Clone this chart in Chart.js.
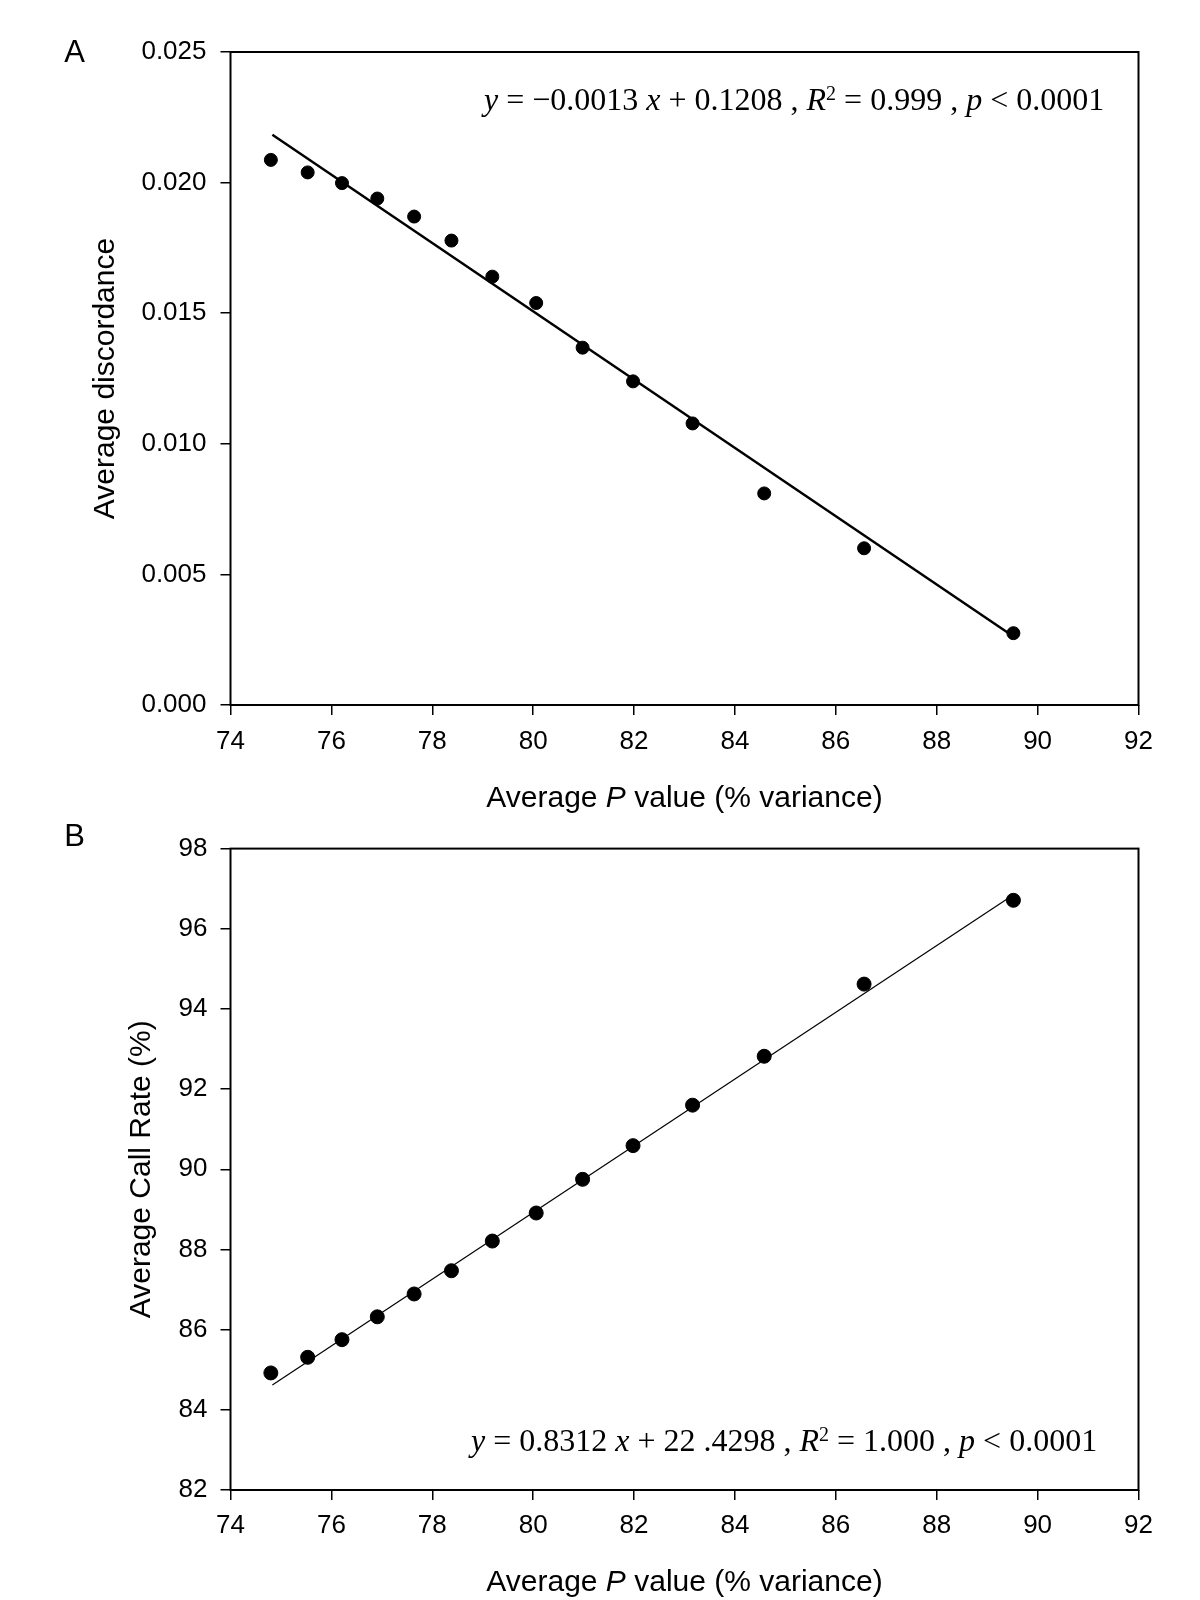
<!DOCTYPE html>
<html>
<head>
<meta charset="utf-8">
<script src="https://cdn.jsdelivr.net/npm/chart.js@4.4.0/dist/chart.umd.min.js"></script>
<style>
  html, body { margin: 0; padding: 0; background: #fff; }
  #wrap { position: relative; width: 1200px; height: 1600px; }
  canvas { position: absolute; left: 0; }
</style>
</head>
<body>
<div id="wrap">
  <canvas id="chartA" width="1200" height="820" style="top:0px"></canvas>
  <canvas id="chartB" width="1200" height="780" style="top:820px"></canvas>
</div>
<script>
// values
const pValues = [74.80, 75.53, 76.21, 76.91, 77.64, 78.38, 79.19, 80.06, 80.98, 81.98, 83.16, 84.58, 86.56, 89.52];
const discordance = [0.02087, 0.02039, 0.01998, 0.01939, 0.01870, 0.01778, 0.01640, 0.01539, 0.01368, 0.01239, 0.01078, 0.00810, 0.00600, 0.00275];
const callRate = [84.92, 85.31, 85.75, 86.32, 86.89, 87.47, 88.21, 88.91, 89.75, 90.59, 91.60, 92.82, 94.62, 96.71];

// fitted line ends as drawn
const fitX = [74.83, 89.50];
const fitA = [0.02183, 0.00265];
const fitB = [84.62, 96.83];

const xTicks = [74, 76, 78, 80, 82, 84, 86, 88, 90, 92];
const yTicksA = [0, 0.005, 0.010, 0.015, 0.020, 0.025];
const yTicksB = [82, 84, 86, 88, 90, 92, 94, 96, 98];

const xTitle = [['Average ', 'r'], ['P', 'i'], [' value (% variance)', 'r']];
const eqA = [['y', 'i'], [' = \u22120.0013 ', 'r'], ['x', 'i'], [' + 0.1208 , ', 'r'], ['R', 'i'], ['2', 's'], [' = 0.999 , ', 'r'], ['p', 'i'], [' < 0.0001', 'r']];
const eqB = [['y', 'i'], [' = 0.8312 ', 'r'], ['x', 'i'], [' + 22 .4298 , ', 'r'], ['R', 'i'], ['2', 's'], [' = 1.000 , ', 'r'], ['p', 'i'], [' < 0.0001', 'r']];

const SANS = '"Liberation Sans", Arial, sans-serif';
const SERIF = '"Liberation Serif", "Times New Roman", serif';

function runWidth(ctx, parts, fam, size) {
  let w = 0;
  parts.forEach(([txt, st]) => {
    ctx.font = fontFor(st, fam, size);
    w += ctx.measureText(txt).width;
  });
  return w;
}

function fontFor(st, fam, size) {
  if (st === 'i') return 'italic ' + size + 'px ' + fam;
  if (st === 's') return Math.round(size * 0.62) + 'px ' + fam;
  return size + 'px ' + fam;
}

function drawRun(ctx, parts, fam, size, x, y) {
  parts.forEach(([txt, st]) => {
    ctx.font = fontFor(st, fam, size);
    const dy = st === 's' ? -size * 0.3 : 0;
    ctx.fillText(txt, x, y + dy);
    x += ctx.measureText(txt).width;
  });
}

// box round the plot area, panel letter, x title and the regression text
const panelDeco = {
  id: 'panelDeco',
  afterDraw(chart, args, opts) {
    const ctx = chart.ctx;
    const a = chart.chartArea;
    ctx.save();
    ctx.strokeStyle = '#000';
    ctx.lineWidth = 2;
    ctx.strokeRect(a.left, a.top, a.right - a.left, a.bottom - a.top);

    ctx.fillStyle = '#000';
    ctx.font = '31px ' + SANS;
    ctx.textAlign = 'center';
    ctx.textBaseline = 'middle';
    ctx.fillText(opts.letter, opts.lx, opts.ly);

    ctx.textAlign = 'left';
    const tw = runWidth(ctx, xTitle, SANS, 30);
    drawRun(ctx, xTitle, SANS, 30, (a.left + a.right) / 2 - tw / 2, opts.ty);

    ctx.textBaseline = 'alphabetic';
    drawRun(ctx, opts.eq, SERIF, opts.size, opts.ex, opts.ey);
    ctx.restore();
  }
};

function setTicks(list) {
  return function (scale) { scale.ticks = list.map(v => ({ value: v })); };
}

function makeChart(id, yVals, fitY, yTicks, yMin, yMax, decimals, yTitle, opt) {
  return new Chart(document.getElementById(id), {
    type: 'scatter',
    data: {
      datasets: [{
        data: pValues.map((x, i) => ({ x: x, y: yVals[i] })),
        backgroundColor: '#000',
        borderColor: '#000',
        pointRadius: opt.radius,
        pointHoverRadius: opt.radius
      }, {
        data: fitX.map((x, i) => ({ x: x, y: fitY[i] })),
        showLine: true,
        borderColor: '#000',
        borderWidth: opt.lineW,
        pointRadius: 0,
        fill: false
      }]
    },
    options: {
      responsive: false,
      animation: false,
      devicePixelRatio: 1,
      layout: { padding: { left: 0, right: 61.5, top: opt.top, bottom: 0 } },
      plugins: {
        legend: { display: false },
        tooltip: { enabled: false },
        panelDeco: opt.deco
      },
      scales: {
        x: {
          type: 'linear',
          min: 74, max: 92,
          afterBuildTicks: setTicks(xTicks),
          afterFit: s => { s.height = opt.xH; },
          border: { display: false },
          grid: { drawOnChartArea: false, drawTicks: true, tickLength: 10, color: '#000', lineWidth: 1.5 },
          ticks: { color: '#000', font: { family: SANS, size: 26 }, padding: opt.xTickPad, maxRotation: 0 },
          title: { display: false }
        },
        y: {
          type: 'linear',
          min: yMin, max: yMax,
          afterBuildTicks: setTicks(yTicks),
          afterFit: s => { s.width = 230.5; },
          border: { display: false },
          grid: { drawOnChartArea: false, drawTicks: true, tickLength: 10, color: '#000', lineWidth: 1.5 },
          ticks: { color: '#000', font: { family: SANS, size: 26 }, padding: opt.yTickPad, callback: v => v.toFixed(decimals) },
          title: { display: true, text: yTitle, color: '#000', font: { family: SANS, size: 30 }, padding: { top: opt.yTitlePad, bottom: 0 } }
        }
      }
    },
    plugins: [panelDeco]
  });
}

makeChart('chartA', discordance, fitA, yTicksA, 0, 0.025, 3, 'Average discordance', {
  radius: 6.5, lineW: 2.5, top: 52, xH: 115, xTickPad: 11, yTickPad: 14, yTitlePad: 88,
  deco: { letter: 'A', lx: 74.5, ly: 53, ty: 799, eq: eqA, ex: 484, ey: 110, size: 32 }
});

makeChart('chartB', callRate, fitB, yTicksB, 82, 98, 0, 'Average Call Rate (%)', {
  radius: 7, lineW: 1.2, top: 17.5, xH: 110, xTickPad: 10, yTickPad: 13, yTitlePad: 124,
  deco: { letter: 'B', lx: 74.5, ly: 17, ty: 762.5, eq: eqB, ex: 471, ey: 631, size: 32 }
});
</script>
</body>
</html>
